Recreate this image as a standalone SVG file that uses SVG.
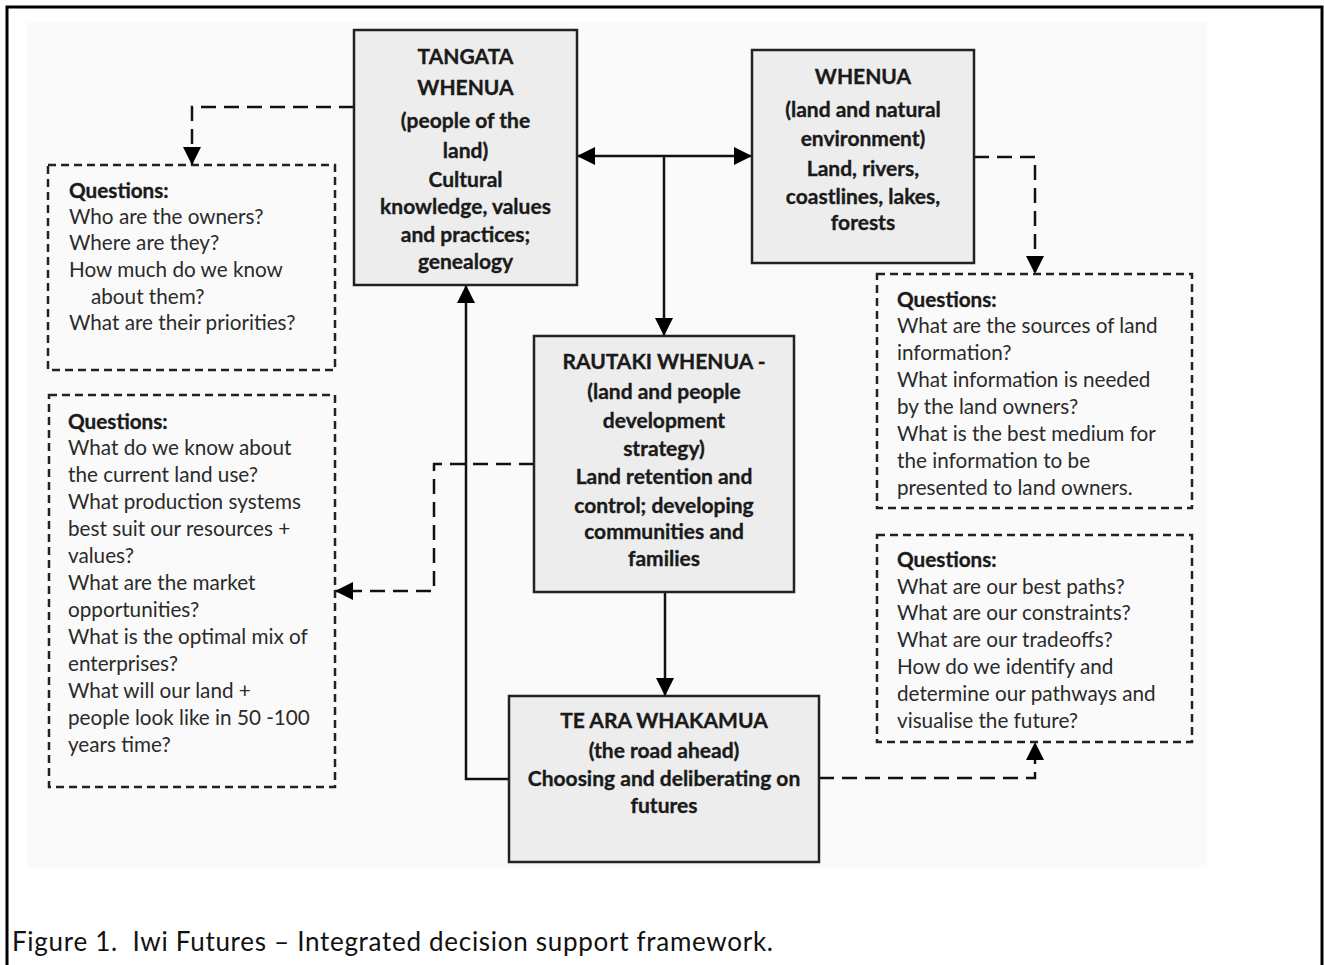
<svg xmlns="http://www.w3.org/2000/svg" width="1324" height="965" viewBox="0 0 1324 965">
<style>
.frame{fill:#fff;stroke:#000;stroke-width:3}
.bg{fill:#fafafa}
.box{fill:#ededed;stroke:#222;stroke-width:2.5}
.qbox{fill:none;stroke:#222;stroke-width:2.5;stroke-dasharray:8 5}
.t{font-family:Lato,"Liberation Sans",sans-serif;font-weight:bold;font-size:21px;fill:#1a1a1a;stroke:#1a1a1a;stroke-width:0.35;text-anchor:middle}
.q{font-family:Lato,"Liberation Sans",sans-serif;font-size:20.7px;fill:#2a2a2a}
.qh{font-weight:bold;fill:#1a1a1a;stroke:#1a1a1a;stroke-width:0.35}
.solid{fill:none;stroke:#111;stroke-width:2.5}
.dash{fill:none;stroke:#111;stroke-width:2.5;stroke-dasharray:15 8}
.cap{font-family:Lato,"Liberation Sans",sans-serif;font-size:26px;fill:#111}
</style>
<defs>
<marker id="ah" markerWidth="18" markerHeight="18" refX="18" refY="9" orient="auto-start-reverse" markerUnits="userSpaceOnUse">
<path d="M0,0 L18,9 L0,18 z" fill="#000"/>
</marker>
</defs>
<rect class="frame" x="7" y="7" width="1315" height="975"/>
<rect class="bg" x="27" y="22" width="1180" height="846"/>

<g id="connectors">
<path class="solid" d="M577,156 H752" marker-start="url(#ah)" marker-end="url(#ah)"/>
<path class="solid" d="M664,156 V336" marker-end="url(#ah)"/>
<path class="solid" d="M665,592 V696" marker-end="url(#ah)"/>
<path class="solid" d="M509,779 H466 V285" marker-end="url(#ah)"/>
<path class="dash" d="M354,107 H192 V165" marker-end="url(#ah)"/>
<path class="dash" d="M974,157 H1035 V274" marker-end="url(#ah)"/>
<path class="dash" d="M534,464 H434 V591 H335" marker-end="url(#ah)"/>
<path class="dash" d="M819,778 H1035 V742" marker-end="url(#ah)"/>
</g>

<g id="tangata">
<rect class="box" x="354" y="30" width="223" height="255"/>
<text class="t" x="465.5" y="64">TANGATA</text>
<text class="t" x="465.5" y="95">WHENUA</text>
<text class="t" x="465.5" y="128">(people of the</text>
<text class="t" x="465.5" y="158">land)</text>
<text class="t" x="465.5" y="187">Cultural</text>
<text class="t" x="465.5" y="214">knowledge, values</text>
<text class="t" x="465.5" y="242">and practices;</text>
<text class="t" x="465.5" y="269">genealogy</text>
</g>

<g id="whenua">
<rect class="box" x="752" y="50" width="222" height="213"/>
<text class="t" x="863" y="84">WHENUA</text>
<text class="t" x="863" y="117">(land and natural</text>
<text class="t" x="863" y="146">environment)</text>
<text class="t" x="863" y="176">Land, rivers,</text>
<text class="t" x="863" y="204">coastlines, lakes,</text>
<text class="t" x="863" y="230">forests</text>
</g>

<g id="rautaki">
<rect class="box" x="534" y="336" width="260" height="256"/>
<text class="t" x="664" y="369">RAUTAKI WHENUA -</text>
<text class="t" x="664" y="399">(land and people</text>
<text class="t" x="664" y="428">development</text>
<text class="t" x="664" y="456">strategy)</text>
<text class="t" x="664" y="484">Land retention and</text>
<text class="t" x="664" y="513">control; developing</text>
<text class="t" x="664" y="539">communities and</text>
<text class="t" x="664" y="566">families</text>
</g>

<g id="tearamua">
<rect class="box" x="509" y="696" width="310" height="166"/>
<text class="t" x="664" y="728">TE ARA WHAKAMUA</text>
<text class="t" x="664" y="758">(the road ahead)</text>
<text class="t" x="664" y="786">Choosing and deliberating on</text>
<text class="t" x="664" y="813">futures</text>
</g>

<g id="q-owners">
<rect class="qbox" x="48" y="165" width="287" height="205"/>
<text class="q" x="69" y="198"><tspan class="qh">Questions:</tspan></text>
<text class="q" x="69" y="224">Who are the owners?</text>
<text class="q" x="69" y="250">Where are they?</text>
<text class="q" x="69" y="277">How much do we know</text>
<text class="q" x="91" y="304">about them?</text>
<text class="q" x="69" y="330">What are their priorities?</text>
</g>

<g id="q-landuse">
<rect class="qbox" x="49" y="395" width="286" height="392"/>
<text class="q" x="68" y="429"><tspan class="qh">Questions:</tspan></text>
<text class="q" x="68" y="455">What do we know about</text>
<text class="q" x="68" y="482">the current land use?</text>
<text class="q" x="68" y="509">What production systems</text>
<text class="q" x="68" y="536">best suit our resources +</text>
<text class="q" x="68" y="563">values?</text>
<text class="q" x="68" y="590">What are the market</text>
<text class="q" x="68" y="617">opportunities?</text>
<text class="q" x="68" y="644">What is the optimal mix of</text>
<text class="q" x="68" y="671">enterprises?</text>
<text class="q" x="68" y="698">What will our land +</text>
<text class="q" x="68" y="725">people look like in 50 -100</text>
<text class="q" x="68" y="752">years time?</text>
</g>

<g id="q-info">
<rect class="qbox" x="877" y="274" width="315" height="234"/>
<text class="q" x="897" y="307"><tspan class="qh">Questions:</tspan></text>
<text class="q" x="897" y="333">What are the sources of land</text>
<text class="q" x="897" y="360">information?</text>
<text class="q" x="897" y="387">What information is needed</text>
<text class="q" x="897" y="414">by the land owners?</text>
<text class="q" x="897" y="441">What is the best medium for</text>
<text class="q" x="897" y="468">the information to be</text>
<text class="q" x="897" y="495">presented to land owners.</text>
</g>

<g id="q-paths">
<rect class="qbox" x="877" y="535" width="315" height="207"/>
<text class="q" x="897" y="567"><tspan class="qh">Questions:</tspan></text>
<text class="q" x="897" y="594">What are our best paths?</text>
<text class="q" x="897" y="620">What are our constraints?</text>
<text class="q" x="897" y="647">What are our tradeoffs?</text>
<text class="q" x="897" y="674">How do we identify and</text>
<text class="q" x="897" y="701">determine our pathways and</text>
<text class="q" x="897" y="728">visualise the future?</text>
</g>

<text class="cap" x="12" y="951" xml:space="preserve" textLength="761" lengthAdjust="spacing">Figure 1.  Iwi Futures – Integrated decision support framework.</text>
</svg>
